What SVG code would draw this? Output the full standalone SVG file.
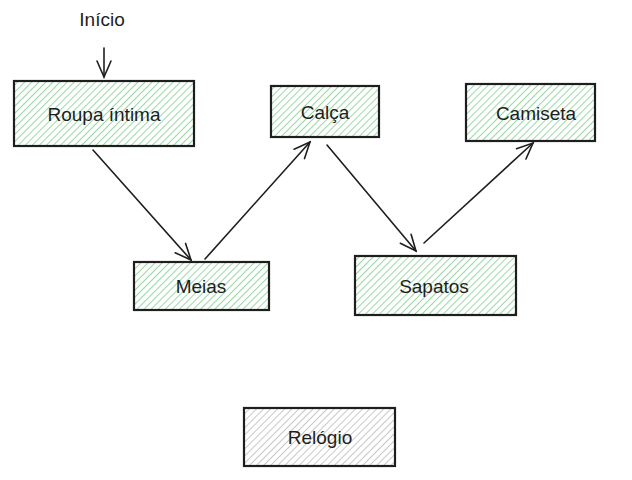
<svg xmlns="http://www.w3.org/2000/svg" width="632" height="480" viewBox="0 0 632 480">
<style>
.box{stroke:#1e1e1e;stroke-width:2.2;}
.g{fill:url(#hg);}
.gr{fill:url(#hgr);}
.t{font-family:"Liberation Sans",Arial,sans-serif;font-size:19px;fill:#1e1e1e;text-anchor:middle;dominant-baseline:central;}
.c{stroke:#1e1e1e;stroke-width:1.6;fill:none;stroke-linecap:round;}
</style>
<defs>
<pattern id="hg" patternUnits="userSpaceOnUse" width="5" height="5" patternTransform="rotate(45)">
<rect width="5" height="5" fill="#ffffff"/>
<line x1="0" y1="0" x2="0" y2="5" stroke="#7fcf8e" stroke-width="1.6"/>
</pattern>
<pattern id="hgr" patternUnits="userSpaceOnUse" width="5" height="5" patternTransform="rotate(45)">
<rect width="5" height="5" fill="#ffffff"/>
<line x1="0" y1="0" x2="0" y2="5" stroke="#b0b0b0" stroke-width="1.4"/>
</pattern>
<marker id="ah" viewBox="0 0 20 20" refX="18" refY="10" markerWidth="20" markerHeight="20" markerUnits="userSpaceOnUse" orient="auto">
<path d="M2 3 L18 10 L2 17" fill="none" stroke="#1e1e1e" stroke-width="1.6" stroke-linecap="round"/>
</marker>
</defs>
<text class="t" x="102" y="19">Início</text>
<g id="roupa"><rect class="box g" x="14" y="81" width="180" height="65"/><text class="t" x="104" y="114">Roupa íntima</text></g>
<g id="calca"><rect class="box g" x="271" y="86" width="108" height="51"/><text class="t" x="325" y="112">Calça</text></g>
<g id="camiseta"><rect class="box g" x="466" y="84" width="129" height="57"/><text class="t" x="536" y="113">Camiseta</text></g>
<g id="meias"><rect class="box g" x="134" y="262" width="135" height="48"/><text class="t" x="201" y="286">Meias</text></g>
<g id="sapatos"><rect class="box g" x="355" y="256" width="161" height="59"/><text class="t" x="434" y="286">Sapatos</text></g>
<g id="relogio"><rect class="box gr" x="244" y="408" width="151" height="58"/><text class="t" x="320" y="437">Relógio</text></g>
<g id="connectors">
<line class="c" x1="104" y1="48" x2="104" y2="77" marker-end="url(#ah)"/>
<line class="c" x1="93" y1="150" x2="191" y2="260" marker-end="url(#ah)"/>
<line class="c" x1="205" y1="259" x2="310" y2="142" marker-end="url(#ah)"/>
<line class="c" x1="327" y1="145" x2="416" y2="251" marker-end="url(#ah)"/>
<line class="c" x1="424" y1="243" x2="533" y2="143" marker-end="url(#ah)"/>
</g>
</svg>
